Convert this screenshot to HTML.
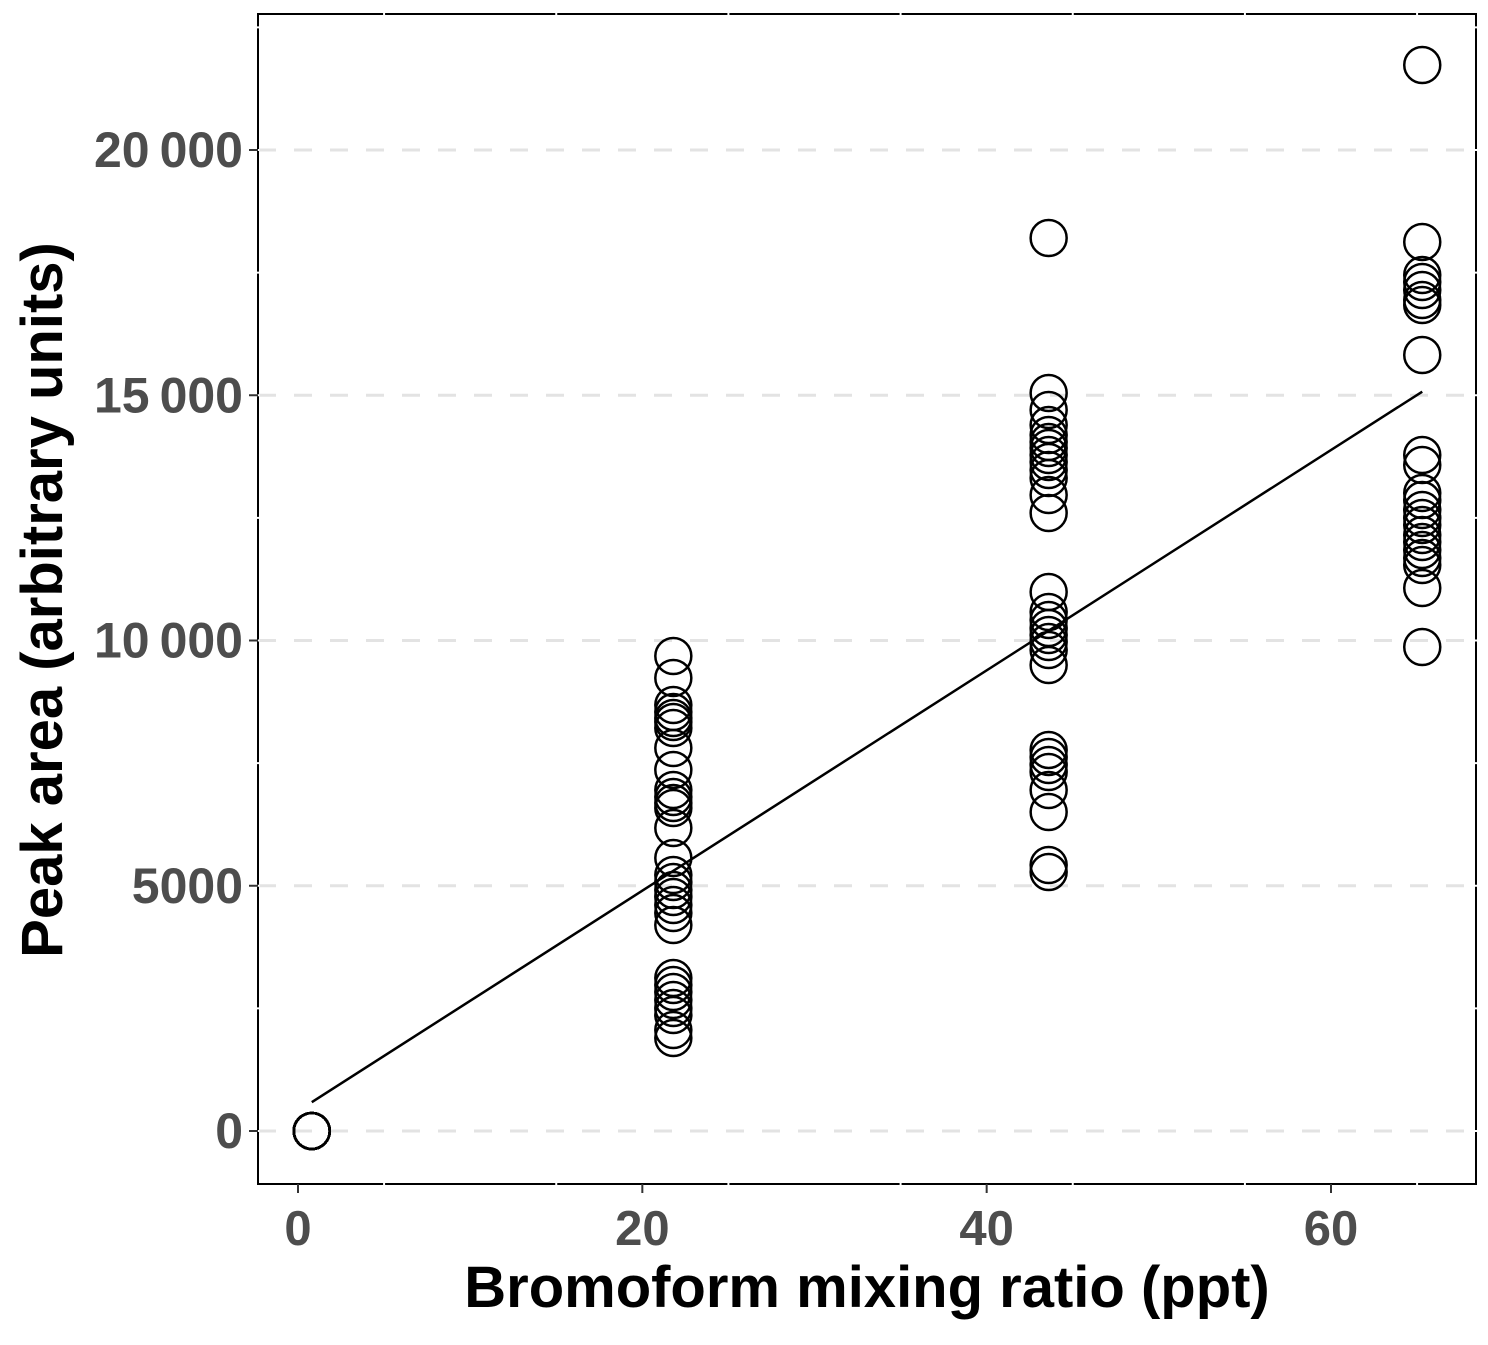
<!DOCTYPE html>
<html><head><meta charset="utf-8"><style>
html,body{margin:0;padding:0;background:#fff;}
svg text{font-family:"Liberation Sans",Arial,sans-serif;font-weight:bold;}
</style></head><body>
<svg id="chart" width="1488" height="1340" xmlns="http://www.w3.org/2000/svg"></svg>
<script>
const xTicks=[0,20,40,60];
const xTickLabels=["0","20","40","60"];
const yTicks=[0,5000,10000,15000,20000];
const yTickLabels=["0","5000","10\u2009000","15\u2009000","20\u2009000"];
const groupX=[0.8,21.8,43.6,65.3];
const g0=[0,0,0,0,0,0,0,0,0,0,0,0,0,0,0,0,0,0,0,0,0,0,0,0,0];
const g1=[9684,9235,8685,8542,8420,8338,8216,7808,7360,6952,6809,6687,6585,6177,5566,5219,5076,4913,4771,4608,4444,4200,3119,2977,2834,2671,2508,2365,2059,1896];
const g2=[18206,15046,14699,14393,14190,14047,13925,13782,13639,13476,13313,12966,12599,10989,10581,10418,10255,10112,9969,9806,9500,7768,7625,7462,7319,6952,6504,5423,5280];
const g3=[21733,18124,17452,17309,17146,16942,16840,15821,13782,13578,13007,12864,12661,12497,12355,12151,12008,11845,11682,11539,11070,9867];
const groups=[g0,g1,g2,g3];

const NS="http://www.w3.org/2000/svg";
const svg=document.getElementById('chart');
const L=258,R=1476,T=14,B=1184;
const xs=v=>298+v*(1331-298)/60;
const ys=v=>1131-v*(1131-150)/20000;
function el(t,a,p){const e=document.createElementNS(NS,t);for(const k in a)e.setAttribute(k,a[k]);(p||svg).appendChild(e);return e;}

yTicks.forEach(v=>{const g=el('line',{x1:L,x2:R,y1:ys(v),y2:ys(v),stroke:'#e3e3e3','stroke-width':3,'stroke-dasharray':'18 18'});

});
const frame=el('rect',{x:L,y:T,width:R-L,height:B-T,fill:'none',stroke:'#000','stroke-width':2});


for(let v=-2500;v<=22500;v+=2500){const y=ys(v);if(y>T&&y<B){[L,R].forEach(x=>{const w=el('line',{x1:x,x2:x,y1:y-1,y2:y+1,stroke:'#fff','stroke-width':3});});}}
for(let v=-5;v<=70;v+=10){const x=xs(v);if(x>L&&x<R){[T,B].forEach(y=>{const w=el('line',{x1:x-1,x2:x+1,y1:y,y2:y,stroke:'#fff','stroke-width':3});});}}

xTicks.forEach((v,i)=>{const t=el('line',{x1:xs(v),x2:xs(v),y1:B,y2:B+9,stroke:'#333','stroke-width':2});


const tx=el('text',{x:xs(v),y:1245,'text-anchor':'middle','font-size':49,fill:'#4d4d4d'});tx.textContent=xTickLabels[i];

});
yTicks.forEach((v,i)=>{const t=el('line',{x1:L-9,x2:L,y1:ys(v),y2:ys(v),stroke:'#333','stroke-width':2});


const tx=el('text',{x:243,y:ys(v)+17,'text-anchor':'end','font-size':50,fill:'#4d4d4d'});tx.textContent=yTickLabels[i];

});

const allX=[],allY=[];
groups.forEach((g,gi)=>g.forEach(v=>{allX.push(groupX[gi]);allY.push(v);
const c=el('circle',{cx:xs(groupX[gi]),cy:ys(v),r:18,fill:'none',stroke:'#000','stroke-width':2.5});

}));

const n=allX.length,mx=allX.reduce((a,b)=>a+b)/n,my=allY.reduce((a,b)=>a+b)/n;
let sxy=0,sxx=0;for(let i=0;i<n;i++){sxy+=(allX[i]-mx)*(allY[i]-my);sxx+=(allX[i]-mx)**2;}
const slope=sxy/sxx,icpt=my-slope*mx;
const x0=groupX[0],x1=groupX[groupX.length-1];
const ln=el('line',{x1:xs(x0),y1:ys(icpt+slope*x0),x2:xs(x1),y2:ys(icpt+slope*x1),stroke:'#000','stroke-width':2.5});



const xt=el('text',{x:867,y:1307,'text-anchor':'middle','font-size':58,fill:'#000'});xt.textContent='Bromoform mixing ratio (ppt)';


const yt=el('text',{x:0,y:0,'text-anchor':'middle','font-size':58,fill:'#000',transform:'translate(62,600) rotate(-90)'});yt.textContent='Peak area (arbitrary units)';


</script>
</body></html>
